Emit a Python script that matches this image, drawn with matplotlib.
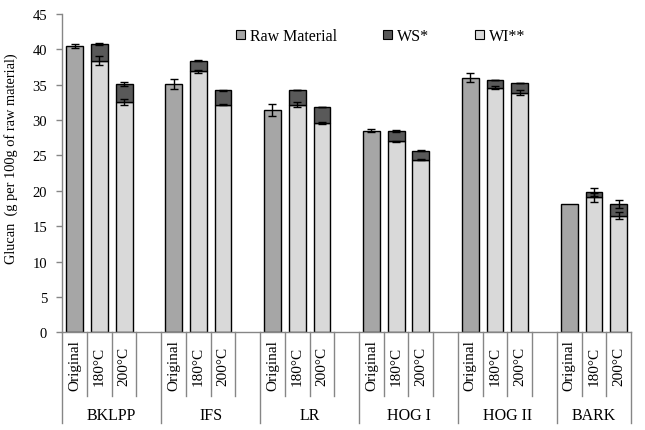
import matplotlib
matplotlib.use("Agg")
import matplotlib.pyplot as plt
import matplotlib.transforms as mtransforms
from matplotlib.patches import Patch

# data (g glucan per 100 g raw material)
groups = ["BKLPP", "IFS", "LR", "HOG I", "HOG II", "BARK"]
treatments = ["Original", "180°C", "200°C"]

raw = [40.5, 35.1, 31.4, 28.5, 36.0, 18.2]
raw_err = [0.25, 0.7, 0.85, 0.2, 0.65, 0.0]

wi_180 = [38.4, 36.9, 32.2, 27.0, 34.6, 19.1]
wi_200 = [32.6, 32.2, 29.6, 24.4, 33.9, 16.5]
wi_180_err = [0.6, 0.2, 0.3, 0.1, 0.25, 0.65]
wi_200_err = [0.4, 0.1, 0.2, 0.1, 0.3, 0.5]

ws_180 = [2.3, 1.5, 2.1, 1.4, 1.0, 0.7]
ws_200 = [2.5, 2.0, 2.2, 1.3, 1.3, 1.6]
ws_180_err = [0.15, 0.1, 0.0, 0.15, 0.0, 0.6]
ws_200_err = [0.3, 0.1, 0.0, 0.1, 0.0, 0.55]

C_RAW = "#a6a6a6"
C_WS = "#595959"
C_WI = "#d9d9d9"
AX_GRAY = "#868686"

plt.rcParams["font.family"] = ["Liberation Serif", "DejaVu Serif"]

fig = plt.figure(figsize=(6.45, 4.31), dpi=100)
ax = fig.add_axes([62.3 / 645, 1 - 333.3 / 431, (631 - 62.3) / 645, (333.3 - 15) / 431])

n_slots = 4 * len(groups) - 1
x_orig = [4 * g + 0.5 for g in range(len(groups))]
x_180 = [4 * g + 1.5 for g in range(len(groups))]
x_200 = [4 * g + 2.5 for g in range(len(groups))]

bw = 0.68
bar_kw = dict(width=bw, edgecolor="black", linewidth=1.0, zorder=2)
err_kw = dict(fmt="none", ecolor="black", elinewidth=1.0, capsize=3, capthick=1.0, zorder=3)

ax.bar(x_orig, raw, color=C_RAW, **bar_kw)
ax.errorbar([x for x, e in zip(x_orig, raw_err) if e > 0],
            [v for v, e in zip(raw, raw_err) if e > 0],
            yerr=[e for e in raw_err if e > 0], **err_kw)

for xs, wi, ws, wi_err, ws_err in [(x_180, wi_180, ws_180, wi_180_err, ws_180_err),
                                   (x_200, wi_200, ws_200, wi_200_err, ws_200_err)]:
    ax.bar(xs, wi, color=C_WI, **bar_kw)
    ax.bar(xs, ws, bottom=wi, color=C_WS, **bar_kw)
    ax.errorbar(xs, wi, yerr=wi_err, **err_kw)
    tops = [a + b for a, b in zip(wi, ws)]
    ax.errorbar(xs, tops, yerr=ws_err, **err_kw)

ax.set_xlim(0, n_slots)
ax.set_ylim(0, 45)
ax.set_yticks(range(0, 46, 5))
ax.tick_params(axis="y", direction="out", length=4, width=1, color=AX_GRAY,
               labelsize=10.5, pad=7)
ax.set_xticks([])
for s in ("top", "right"):
    ax.spines[s].set_visible(False)
for s in ("left", "bottom"):
    ax.spines[s].set_color(AX_GRAY)
    ax.spines[s].set_linewidth(1.0)

ax.set_ylabel("Glucan  (g per 100g of raw material)", fontsize=10.4)
ax.yaxis.set_label_coords(-0.078, 0.548)

# multi-level category axis (Excel style)
trans = mtransforms.blended_transform_factory(ax.transData, ax.transAxes)
y_cat = -(397 - 333.3) / 318.3
y_grp = -(424 - 333.3) / 318.3
for b in range(n_slots + 1):
    bottom = y_grp if (b % 4 == 0 or b == n_slots) else y_cat
    ax.plot([b, b], [0, bottom], color=AX_GRAY, lw=1.0, transform=trans, clip_on=False)

for g, name in enumerate(groups):
    for k, t in enumerate(treatments):
        ax.text(4 * g + k + 0.5, -(366 - 333.3) / 318.3, t, rotation=90,
                ha="center", va="center", fontsize=11, transform=trans)
    gx = (4 * g + min(4 * g + 4, n_slots)) / 2
    ax.text(gx, -(416 - 333.3) / 318.3, name, ha="center", va="center",
            fontsize=11.5, transform=trans)

handles = [Patch(facecolor=C_RAW, edgecolor="black", linewidth=0.8, label="Raw Material"),
           Patch(facecolor=C_WS, edgecolor="black", linewidth=0.8, label="WS*"),
           Patch(facecolor=C_WI, edgecolor="black", linewidth=0.8, label="WI**")]
ax.legend(handles=handles, ncol=3, loc="center", bbox_to_anchor=(0.56, 0.93),
          frameon=False, fontsize=11.5, handlelength=0.55, handleheight=0.55,
          handletextpad=0.35, columnspacing=2.85)

fig.savefig("out.png", dpi=100)
